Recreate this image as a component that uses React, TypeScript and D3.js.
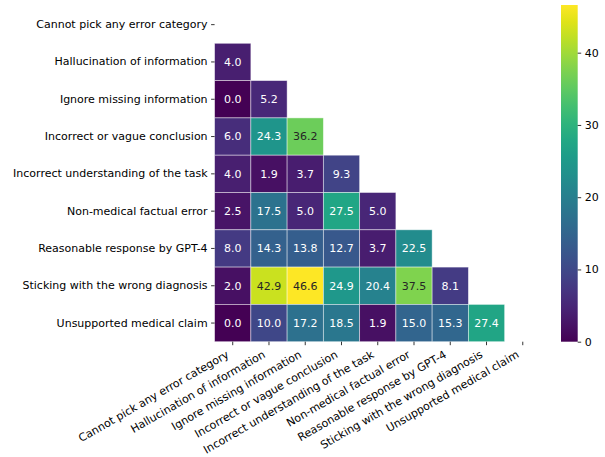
import { useEffect, useRef } from 'react';
import * as d3 from 'd3';

const categories = [
  'Cannot pick any error category',
  'Hallucination of information',
  'Ignore missing information',
  'Incorrect or vague conclusion',
  'Incorrect understanding of the task',
  'Non-medical factual error',
  'Reasonable response by GPT-4',
  'Sticking with the wrong diagnosis',
  'Unsupported medical claim',
];

// lower triangle, row i has i values (columns 0..i-1)
const rowValues: number[][] = [
  [],
  [4.0],
  [0.0, 5.2],
  [6.0, 24.3, 36.2],
  [4.0, 1.9, 3.7, 9.3],
  [2.5, 17.5, 5.0, 27.5, 5.0],
  [8.0, 14.3, 13.8, 12.7, 3.7, 22.5],
  [2.0, 42.9, 46.6, 24.9, 20.4, 37.5, 8.1],
  [0.0, 10.0, 17.2, 18.5, 1.9, 15.0, 15.3, 27.4],
];

const colorbarTicks = [0, 10, 20, 30, 40];

interface Cell {
  row: string;
  col: string;
  value: number;
}

export default function App() {
  const svgRef = useRef<SVGSVGElement>(null);

  useEffect(() => {
    if (!svgRef.current) return;
    const svg = d3.select(svgRef.current);
    svg.selectAll('*').remove();

    const font = 'DejaVu Sans, sans-serif';
    const fs = '11px';
    const grid = { left: 214.6, right: 540.9, top: 6, bottom: 341.7 };

    const cells: Cell[] = [];
    rowValues.forEach((vals, i) => {
      vals.forEach((v, j) => cells.push({ row: categories[i], col: categories[j], value: v }));
    });

    const vmax = d3.max(cells, d => d.value) || 0;
    const vmin = d3.min(cells, d => d.value) || 0;

    const x = d3.scaleBand().domain(categories).range([grid.left, grid.right]);
    const y = d3.scaleBand().domain(categories).range([grid.top, grid.bottom]);
    const color = d3.scaleSequential(d3.interpolateViridis).domain([vmin, vmax]);

    const g = svg.append('g');

    g.selectAll('rect.cell')
      .data(cells)
      .join('rect')
      .attr('class', 'cell')
      .attr('x', d => x(d.col) || 0)
      .attr('y', d => y(d.row) || 0)
      .attr('width', x.bandwidth())
      .attr('height', y.bandwidth())
      .attr('fill', d => color(d.value))
      .attr('stroke', 'rgba(255,255,255,0.55)')
      .attr('stroke-width', 0.8);

    const textColor = (v: number) => {
      const c = d3.rgb(color(v));
      const lin = (u: number) => {
        const s = u / 255;
        return s <= 0.03928 ? s / 12.92 : Math.pow((s + 0.055) / 1.055, 2.4);
      };
      const lum = 0.2126 * lin(c.r) + 0.7152 * lin(c.g) + 0.0722 * lin(c.b);
      return lum > 0.408 ? '#262626' : '#ffffff';
    };

    g.selectAll('text.annot')
      .data(cells)
      .join('text')
      .attr('class', 'annot')
      .attr('x', d => (x(d.col) || 0) + x.bandwidth() / 2)
      .attr('y', d => (y(d.row) || 0) + y.bandwidth() / 2)
      .attr('dy', '0.35em')
      .attr('text-anchor', 'middle')
      .style('font-family', font)
      .style('font-size', fs)
      .attr('fill', d => textColor(d.value))
      .text(d => d.value.toFixed(1));

    // y axis
    const yAxis = g.append('g')
      .attr('transform', `translate(${grid.left},0)`)
      .call(d3.axisLeft(y).tickSize(3.5).tickPadding(3.5));
    yAxis.select('.domain').remove();
    yAxis.selectAll('line').attr('stroke', '#000').attr('stroke-width', 0.8);
    yAxis.selectAll('text')
      .attr('fill', '#000')
      .style('font-family', font)
      .style('font-size', fs);

    // x axis
    const xAxis = g.append('g')
      .attr('transform', `translate(0,${grid.bottom})`)
      .call(d3.axisBottom(x).tickSize(3.5).tickPadding(3.5));
    xAxis.select('.domain').remove();
    xAxis.selectAll('line').attr('stroke', '#000').attr('stroke-width', 0.8);
    xAxis.selectAll('text')
      .attr('fill', '#000')
      .attr('text-anchor', 'end')
      .attr('y', 0)
      .attr('dy', 0)
      .attr('transform', 'translate(-3,15) rotate(-30)')
      .style('font-family', font)
      .style('font-size', fs);

    // colorbar
    const cb = { left: 561, right: 577.7, top: 5, bottom: 341.7 };
    const cbScale = d3.scaleLinear().domain([vmin, vmax]).range([cb.bottom, cb.top]);
    const defs = svg.append('defs');
    const grad = defs.append('linearGradient')
      .attr('id', 'cbgrad')
      .attr('x1', 0).attr('x2', 0).attr('y1', 1).attr('y2', 0);
    d3.range(0, 1.0001, 0.05).forEach(t => {
      grad.append('stop')
        .attr('offset', t)
        .attr('stop-color', d3.interpolateViridis(t));
    });
    svg.append('rect')
      .attr('x', cb.left)
      .attr('y', cb.top)
      .attr('width', cb.right - cb.left)
      .attr('height', cb.bottom - cb.top)
      .attr('fill', 'url(#cbgrad)');

    const cbAxis = svg.append('g')
      .attr('transform', `translate(${cb.right},0)`)
      .call(d3.axisRight(cbScale).tickValues(colorbarTicks).tickSize(3.5).tickPadding(3.5));
    cbAxis.select('.domain').remove();
    cbAxis.selectAll('line').attr('stroke', '#000').attr('stroke-width', 0.8);
    cbAxis.selectAll('text')
      .attr('fill', '#000')
      .style('font-family', font)
      .style('font-size', fs);
  }, []);

  return (
    <svg
      ref={svgRef}
      width={605}
      height={457}
      style={{ position: 'absolute', left: 0, top: 0, background: '#fff' }}
    />
  );
}
